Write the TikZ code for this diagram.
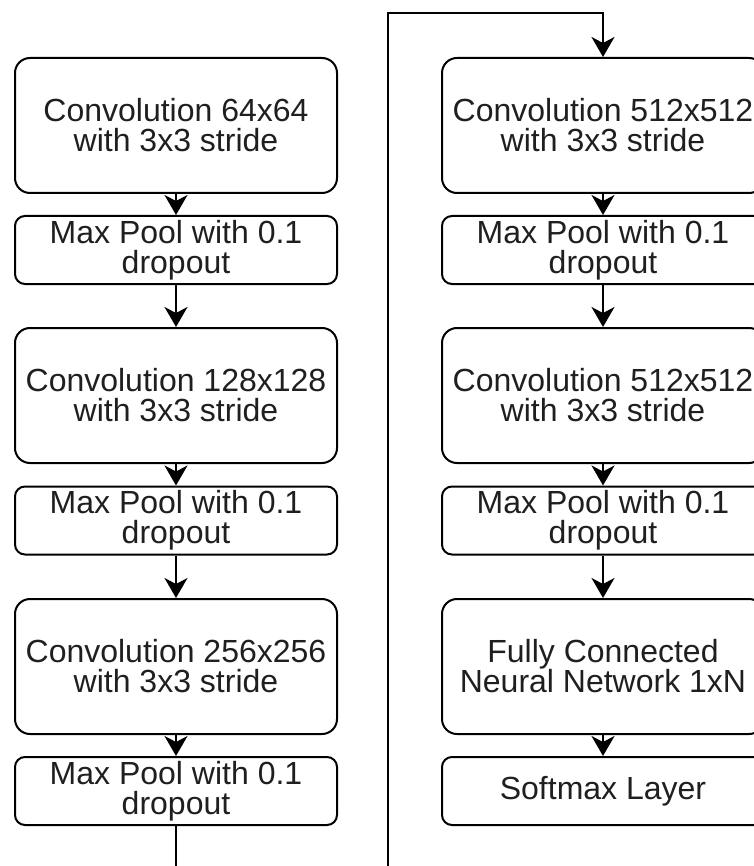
\documentclass[tikz,border=0pt]{standalone}
\usepackage{fontspec}
\setmainfont{Liberation Sans}
\usetikzlibrary{arrows.meta}
\begin{document}
\begin{tikzpicture}[x=1pt,y=-1pt,
  every node/.style={align=center,font=\fontsize{32}{30}\selectfont,text=black!88,inner sep=0pt},
  convbox/.style={draw,line width=2pt,rounded corners=15pt,minimum width=322pt,minimum height=135pt},
  poolbox/.style={draw,line width=2pt,rounded corners=10pt,minimum width=322pt,minimum height=68pt},
  arr/.style={line width=2pt,-{Stealth[length=20pt,width=23pt,inset=6pt]}}]
\useasboundingbox (0,0) rectangle (753,866);
% left column
\node[convbox] (c1) at (176,125.5) {Convolution 64x64\\with 3x3 stride};
\node[poolbox] (p1) at (176,250) {Max Pool with 0.1\\dropout};
\node[convbox] (c2) at (176,395.5) {Convolution 128x128\\with 3x3 stride};
\node[poolbox] (p2) at (176,520.5) {Max Pool with 0.1\\dropout};
\node[convbox] (c3) at (176,666.5) {Convolution 256x256\\with 3x3 stride};
\node[poolbox] (p3) at (176,791) {Max Pool with 0.1\\dropout};
% right column
\node[convbox] (c4) at (603,125.5) {Convolution 512x512\\with 3x3 stride};
\node[poolbox] (p4) at (603,250) {Max Pool with 0.1\\dropout};
\node[convbox] (c5) at (603,395.5) {Convolution 512x512\\with 3x3 stride};
\node[poolbox] (p5) at (603,520.5) {Max Pool with 0.1\\dropout};
\node[convbox] (fc) at (603,666.5) {Fully Connected\\Neural Network 1xN};
\node[poolbox] (sm) at (603,791) {Softmax Layer};
% connectors
\draw[arr] (c1) -- (p1);
\draw[arr] (p1) -- (c2);
\draw[arr] (c2) -- (p2);
\draw[arr] (p2) -- (c3);
\draw[arr] (c3) -- (p3);
\coordinate (b1) at (176,900);
\coordinate (b2) at (388,900);
\coordinate (t1) at (388,13);
\coordinate (t2) at (603,13);
\draw[arr] (p3) -- (b1) -- (b2) -- (t1) -- (t2) -- (c4);
\draw[arr] (c4) -- (p4);
\draw[arr] (p4) -- (c5);
\draw[arr] (c5) -- (p5);
\draw[arr] (p5) -- (fc);
\draw[arr] (fc) -- (sm);
\end{tikzpicture}
\end{document}
